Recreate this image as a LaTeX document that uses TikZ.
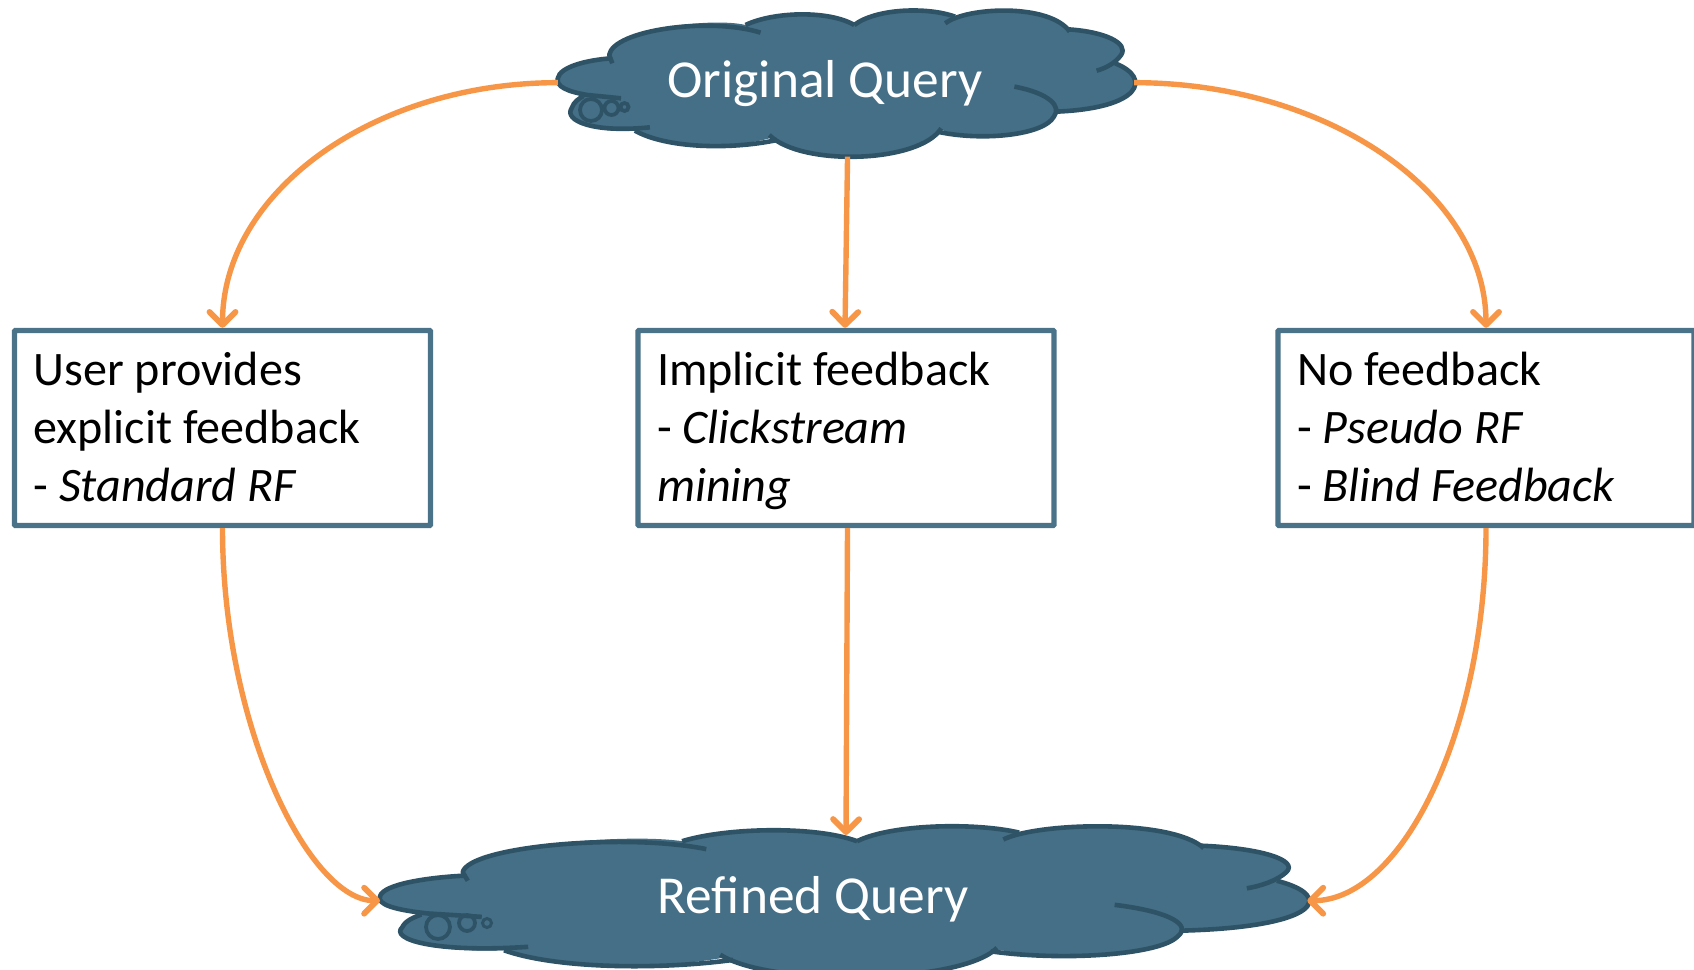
\documentclass[tikz,border=0pt]{standalone}
\usepackage{fontspec}
\setmainfont{Carlito}
\usetikzlibrary{arrows.meta}
\definecolor{cloudfill}{HTML}{446F86}
\definecolor{cloudline}{HTML}{2F5366}
\definecolor{boxline}{HTML}{4A7288}
\definecolor{arrowc}{HTML}{F79646}
\newcommand\lstrut{\rule[-13pt]{0pt}{56pt}}
\newcommand\cloudshape[1]{%
  \fill[cloudfill] (175,165) .. controls (185,90) and (430,50) .. (520,75)
    .. controls (590,35) and (730,30) .. (795,75)
    .. controls (850,25) and (980,20) .. (1050,50)
    -- (1025,70) .. controls (1080,20) and (1290,10) .. (1340,95)
    -- (1335,88) .. controls (1430,95) and (1490,130) .. (1470,165)
    -- (1455,190) .. controls (1550,235) and (1520,325) .. (1305,335)
    -- (1300,350) .. controls (1275,405) and (1120,425) .. (1015,390)
    .. controls (960,490) and (660,500) .. (590,412)
    .. controls (480,450) and (320,445) .. (240,392)
    .. controls (130,400) and (60,360) .. (80,325)
    .. controls (85,305) and (100,295) .. (110,285)
    .. controls (70,275) and (40,260) .. (45,235)
    .. controls (50,200) and (120,180) .. (175,175) -- cycle;
  \draw[cloudedge] (183,190) -- (175,165) .. controls (185,90) and (430,50) .. (558,98);
  \draw[cloudedge] (520,75) .. controls (590,35) and (730,30) .. (795,75);
  \draw[cloudedge] (795,75) .. controls (850,25) and (980,20) .. (1050,50);
  \draw[cloudedge] (1025,70) .. controls (1080,20) and (1290,10) .. (1340,95);
  \draw[cloudedge] (1335,88) .. controls (1430,95) and (1490,130) .. (1470,165)
    .. controls (1455,190) and (1430,205) .. (1408,212);
  \draw[cloudedge] (1455,190) .. controls (1550,235) and (1520,325) .. (1305,335);
  \draw[cloudedge] (1200,260) .. controls (1290,280) and (1320,320) .. (1300,350)
    .. controls (1275,405) and (1120,425) .. (1005,395);
  \draw[cloudedge] (1015,385) .. controls (960,490) and (660,500) .. (580,405);
  \draw[cloudedge] (600,420) .. controls (480,450) and (320,445) .. (240,392);
  \draw[cloudedge] (278,382) .. controls (130,400) and (60,360) .. (80,325)
    .. controls (85,305) and (100,295) .. (110,288);
  \draw[cloudedge] (205,295) -- (120,285) .. controls (70,275) and (40,260) .. (45,235)
    .. controls (50,200) and (120,180) .. (180,175);
  \coordinate (#1W) at (45,248);
  \coordinate (#1E) at (1503,248);
  \coordinate (#1S) at (778,470);
}
\tikzset{
  x=1pt,y=1pt,
  cloudedge/.style={draw=cloudline,line width=4.6pt,line join=round},
  ring/.style={draw=cloudline,line width=3.8pt},
  infobox/.style={draw=boxline,line width=5.4pt,fill=white,rounded corners=1pt,
    minimum width=416pt,minimum height=195pt,text width=378pt,inner xsep=19pt,inner ysep=0pt,
    align=flush left,font=\fontsize{48.1}{58}\selectfont},
  cloudtext/.style={text=white,anchor=base,font=\fontsize{53.4}{58}\selectfont},
  conn/.style={draw=arrowc,line width=5.4pt,-{Straight Barb[length=13pt,width=26pt,line width=5.8pt,round]}},
}
\begin{document}
\begin{tikzpicture}
\useasboundingbox (0,0) rectangle (1694,-969);
\clip (0,0) rectangle (1694,-969);
% top cloud
\begin{scope}[shift={(540,0)},xscale=0.3953,yscale=-0.3333]
  \cloudshape{orig}
\end{scope}
\draw[ring] (591,-110) circle[radius=11];
\draw[ring] (611.5,-108) circle[radius=7];
\draw[ring] (624.5,-107) circle[radius=4];
\node[cloudtext] (origtext) at (825,-97) {Original Query};
% bottom cloud
\begin{scope}[shift={(351.4,-815.4)},xscale=0.636,yscale=-0.344]
  \cloudshape{ref}
\end{scope}
\coordinate (refN) at (846,-835);
\draw[ring] (438,-927) circle[radius=12];
\draw[ring] (467,-923) circle[radius=8];
\draw[ring,line width=3pt] (487,-923) circle[radius=4.5];
\node[cloudtext] (reftext) at (813,-913) {Refined Query};
% boxes
\node[infobox] (b1) at (222.5,-428) {\lstrut User provides\\\lstrut explicit feedback\\\lstrut - \textit{Standard RF}};
\node[infobox] (b2) at (846,-428) {\lstrut Implicit feedback\\\lstrut - \textit{Clickstream}\\\lstrut \textit{mining}};
\node[infobox] (b3) at (1486,-428) {\lstrut No feedback\\\lstrut - \textit{Pseudo RF}\\\lstrut - \textit{Blind Feedback}};
% connectors
\draw[conn] (origW) .. controls +(-184,0) and +(0,136) .. (b1.north);
\draw[conn] (origS) -- ([xshift=-1pt]b2.north);
\draw[conn] (origE) .. controls +(192,0) and +(0,136) .. (b3.north);
\draw[conn] (b1.south) .. controls +(0,-200) and +(-70,0) .. (refW);
\draw[conn] ([xshift=1.5pt]b2.south) -- (refN);
\draw[conn] (b3.south) .. controls +(0,-200) and +(96,0) .. (refE);
\end{tikzpicture}
\end{document}
